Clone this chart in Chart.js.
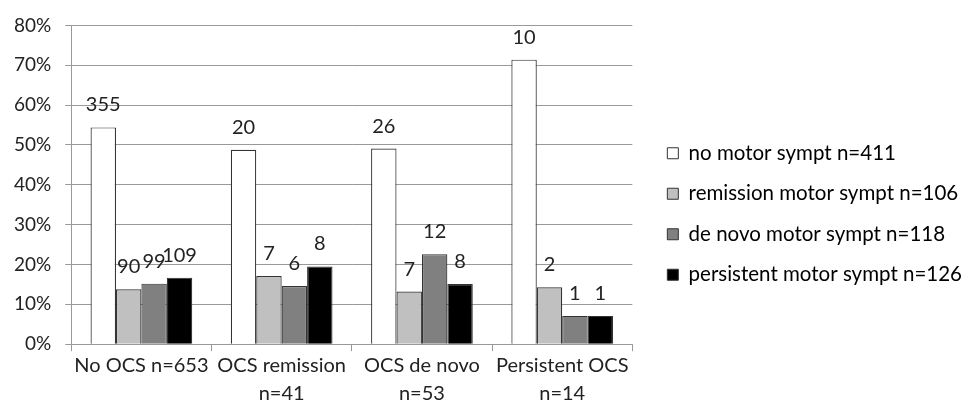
<!DOCTYPE html>
<html>
<head>
<meta charset="utf-8">
<script src="https://cdn.jsdelivr.net/npm/chart.js@4/dist/chart.umd.min.js"></script>
<style>
  html, body { margin: 0; padding: 0; background: #fff; }
  #wrap { width: 969px; height: 408px; position: relative; }
</style>
</head>
<body>
<div id="wrap"><canvas id="myChart"></canvas></div>
<script>
// Categories (x axis) and series
const categories = [
  "No OCS n=653",
  ["OCS remission", "n=41"],
  ["OCS de novo", "n=53"],
  ["Persistent OCS", "n=14"]
];
const seriesNames = [
  "no motor sympt n=411",
  "remission motor sympt n=106",
  "de novo motor sympt n=118",
  "persistent motor sympt n=126"
];
// percentages
const noMotor = [54.4, 48.8, 49.1, 71.4];
const remissionMotor = [13.8, 17.1, 13.2, 14.3];
const deNovoMotor = [15.2, 14.6, 22.6, 7.1];
const persistentMotor = [16.7, 19.5, 15.1, 7.1];
// counts printed above the bars
const noMotorCounts = [355, 20, 26, 10];
const remissionCounts = [90, 7, 7, 2];
const deNovoCounts = [99, 6, 12, 1];
const persistentCounts = [109, 8, 8, 1];
const yTicks = [0, 10, 20, 30, 40, 50, 60, 70, 80];

const FONT = "Lato, 'Open Sans', sans-serif";

// Draw count labels above each bar
const countLabels = {
  id: "countLabels",
  afterDatasetsDraw(chart) {
    const ctx = chart.ctx;
    ctx.save();
    ctx.font = "20px " + FONT;
    ctx.fillStyle = "#222";
    ctx.textAlign = "center";
    ctx.textBaseline = "alphabetic";
    chart.data.datasets.forEach((ds, i) => {
      const meta = chart.getDatasetMeta(i);
      meta.data.forEach((bar, j) => {
        ctx.fillText(String(ds.counts[j]), bar.x, bar.y - 16);
      });
    });
    ctx.restore();
  }
};

// leave a small gap between plot and legend, like the original
const legendGap = {
  id: "legendGap",
  afterLayout(chart) {
    chart.legend.left += 15;
    chart.legend.right += 15;
  }
};

const ctx = document.getElementById("myChart").getContext("2d");
new Chart(ctx, {
  type: "bar",
  data: {
    labels: categories,
    datasets: [
      { label: seriesNames[0], data: noMotor, counts: noMotorCounts, backgroundColor: "#ffffff" },
      { label: seriesNames[1], data: remissionMotor, counts: remissionCounts, backgroundColor: "#c0c0c0" },
      { label: seriesNames[2], data: deNovoMotor, counts: deNovoCounts, backgroundColor: "#808080" },
      { label: seriesNames[3], data: persistentMotor, counts: persistentCounts, backgroundColor: "#000000" }
    ].map(d => Object.assign(d, { borderColor: "#333", borderWidth: 1.2 }))
  },
  options: {
    responsive: true,
    maintainAspectRatio: false,
    animation: false,
    layout: { padding: { top: 20, right: 12, left: 0, bottom: 0 } },
    categoryPercentage: 0.725,
    barPercentage: 1,
    plugins: {
      tooltip: { enabled: false },
      legend: {
        position: "right",
        maxWidth: 336,
        labels: {
          boxWidth: 11,
          boxHeight: 11,
          padding: 20,
          color: "#222",
          font: { family: FONT, size: 20.5 },
          generateLabels(chart) {
            return chart.data.datasets.map((d, i) => ({
              text: d.label,
              fillStyle: d.backgroundColor,
              strokeStyle: "#333",
              lineWidth: 1,
              datasetIndex: i
            }));
          }
        }
      }
    },
    scales: {
      x: {
        offset: true,
        grid: {
          offset: true,
          drawOnChartArea: false,
          color: "#999",
          tickLength: 7
        },
        border: { color: "#999" },
        ticks: {
          color: "#222",
          maxRotation: 0,
          autoSkip: false,
          padding: 0,
          font: { family: FONT, size: 20, lineHeight: 1.42 }
        }
      },
      y: {
        min: 0,
        max: 80,
        afterBuildTicks(axis) {
          axis.ticks = yTicks.map(v => ({ value: v }));
        },
        grid: { color: "#999", tickLength: 6 },
        border: { color: "#999" },
        ticks: {
          color: "#222",
          padding: 14,
          font: { family: FONT, size: 19 },
          callback: v => v + "%"
        }
      }
    }
  },
  plugins: [countLabels, legendGap]
});
</script>
</body>
</html>
